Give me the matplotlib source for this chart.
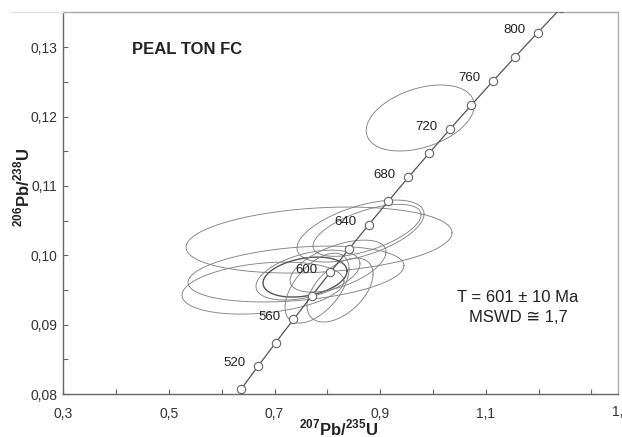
import numpy as np
import matplotlib
matplotlib.use("Agg")
import matplotlib.pyplot as plt
from matplotlib.lines import Line2D

plt.rcParams['font.family'] = ['Liberation Sans', 'DejaVu Sans']
plt.rcParams['mathtext.fontset'] = 'custom'
plt.rcParams['mathtext.rm'] = 'Liberation Sans'
plt.rcParams['mathtext.bf'] = 'Liberation Sans:bold'

# Concordia markers (age in Ma, 207Pb/235U, 206Pb/238U)
marker_ages = [500, 520, 540, 560, 580, 600, 620, 640, 660, 680, 700, 720, 740, 760, 780, 800, 820]
marker_x = [0.6363, 0.6688, 0.7020, 0.7359, 0.7704, 0.8056, 0.8415, 0.8782, 0.9155, 0.9536,
            0.9925, 1.0321, 1.0726, 1.1138, 1.1558, 1.1987, 1.2425]
marker_y = [0.08065, 0.08401, 0.08738, 0.09075, 0.09414, 0.09754, 0.10095, 0.10438, 0.10781,
            0.11125, 0.11470, 0.11817, 0.12164, 0.12513, 0.12862, 0.13213, 0.13565]
label_ages = [520, 560, 600, 640, 680, 720, 760, 800]

# Error ellipses: centre, half-extent in x and y, correlation
ell_cx = [0.976, 0.8629, 0.8752, 0.7843, 0.7407, 0.6782, 0.7578, 0.7634, 0.7805, 0.8241, 0.8203]
ell_cy = [0.1198, 0.1035, 0.1036, 0.1022, 0.0973, 0.09527, 0.09686, 0.09715, 0.09527, 0.09499, 0.09844]
ell_sx = [0.1023, 0.1203, 0.1023, 0.2519, 0.2045, 0.1534, 0.0795, 0.0985, 0.0606, 0.0625, 0.0909]
ell_sy = [0.00476, 0.00447, 0.00375, 0.00476, 0.00403, 0.00375, 0.00288, 0.0036, 0.00504, 0.00461, 0.00375]
ell_rho = [0.38, 0.55, 0.6, 0.22, 0.3, 0.27, 0.3, 0.45, 0.55, 0.5, 0.55]
ell_dark = [False, False, False, False, False, False, True, False, False, False, False]

xticks = [0.3, 0.5, 0.7, 0.9, 1.1, 1.3]
xtick_labels = ['0,3', '0,5', '0,7', '0,9', '1,1', '']
xminor = [0.4, 0.6, 0.8, 1.0, 1.2]
yticks = [0.08, 0.09, 0.10, 0.11, 0.12, 0.13]
ytick_labels = ['0,08', '0,09', '0,10', '0,11', '0,12', '0,13']
yminor = [0.085, 0.095, 0.105, 0.115, 0.125]

W, H = 622, 437
fig = plt.figure(figsize=(W / 100, H / 100), dpi=100)
ax = fig.add_axes([63.3 / W, 1 - 394 / H, (618 - 63.3) / W, (394 - 12) / H])
ax.set_xlim(0.3, 1.3 + (618 - 591.3) / 528)
ax.set_ylim(0.08, 0.13 + 35.3 / 6940)

t = np.linspace(0, 2 * np.pi, 400)
for cx, cy, sx, sy, r, dk in zip(ell_cx, ell_cy, ell_sx, ell_sy, ell_rho, ell_dark):
    ex = cx + sx * np.cos(t)
    ey = cy + sy * (r * np.cos(t) + np.sqrt(1 - r * r) * np.sin(t))
    ax.plot(ex, ey, color='#555555' if dk else '#828282', lw=1.0 if dk else 0.65, zorder=2)

ax.plot(marker_x, marker_y, color='#555555', lw=0.9, zorder=3)
ax.plot(marker_x, marker_y, 'o', ms=6, mfc='white', mec='#666666', mew=0.8, zorder=4)
for a, x, y in zip(marker_ages, marker_x, marker_y):
    if a in label_ages:
        ax.annotate(str(a), (x, y), xytext=(-9, 2), textcoords='offset points',
                    ha='right', va='center', fontsize=9.5, color='#222222', zorder=5)

ax.set_xticks(xticks)
ax.set_xticklabels(xtick_labels)
ax.set_xticks(xminor, minor=True)
ax.set_yticks(yticks)
ax.set_yticklabels(ytick_labels)
ax.set_yticks(yminor, minor=True)
ax.tick_params(which='both', direction='in', length=3.5, width=0.8, color='#666666',
               labelsize=10, labelcolor='#333333')
ax.tick_params(axis='x', which='both', pad=9)
ax.tick_params(axis='y', which='both', pad=4)

for s in ['left', 'bottom']:
    ax.spines[s].set_color('#666666')
    ax.spines[s].set_linewidth(1.0)
for s in ['top', 'right']:
    ax.spines[s].set_color('#aaaaaa')
    ax.spines[s].set_linewidth(1.0)

fig.text(612 / W, 1 - 412 / H, '1,3', ha='left', va='center', fontsize=10, color='#333333')
fig.add_artist(Line2D([10 / W, 63 / W], [1 - 12 / H, 1 - 12 / H], color='#e3e3e3', lw=1))

fig.text(187 / W, 1 - 49 / H, 'PEAL TON FC', ha='center', va='center', fontsize=12,
         fontweight='bold', color='#222222')
fig.text(517.5 / W, 1 - 297 / H, 'T = 601 ± 10 Ma', ha='center', va='center', fontsize=12,
         color='#222222')
fig.text(518.5 / W, 1 - 318 / H, 'MSWD ≅ 1,7', ha='center', va='center', fontsize=12,
         color='#222222')

fig.text(339 / W, 1 - 428 / H, r'$^{\mathbf{207}}\mathbf{Pb/}^{\mathbf{235}}\mathbf{U}$',
         ha='center', va='center', fontsize=12, color='#222222')
fig.text(22 / W, 1 - 187 / H, r'$^{\mathbf{206}}\mathbf{Pb/}^{\mathbf{238}}\mathbf{U}$',
         ha='center', va='center', fontsize=12, rotation=90, color='#222222')

fig.savefig('out.png', dpi=100)
